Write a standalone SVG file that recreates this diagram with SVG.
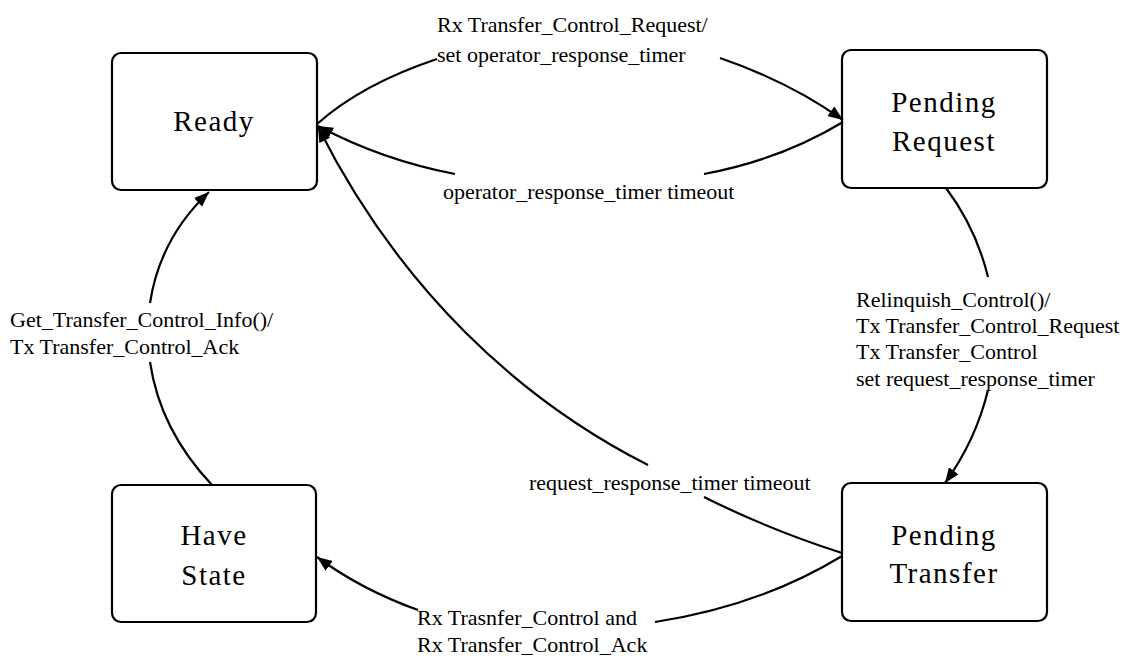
<svg xmlns="http://www.w3.org/2000/svg" width="1138" height="666" viewBox="0 0 1138 666">
  <style>
    .box { fill: #ffffff; stroke: #000000; stroke-width: 2.2; }
    .name { font-family: "Liberation Serif", "Times New Roman", serif; font-size: 29px; letter-spacing: 1.5px; text-anchor: middle; fill: #000000; }
    .lbl { font-family: "Liberation Serif", "Times New Roman", serif; font-size: 22px; fill: #000000; }
    .edge { fill: none; stroke: #000000; stroke-width: 2.2; marker-end: url(#arrow); }
  </style>
  <defs>
    <marker id="arrow" markerUnits="userSpaceOnUse" markerWidth="17" markerHeight="12" refX="15" refY="6" orient="auto">
      <path d="M0,0 L15,6 L0,12 Z" fill="#000000"/>
    </marker>
  </defs>
  <rect width="1138" height="666" fill="#ffffff"/>

  <!-- states -->
  <g id="ready">
    <rect class="box" x="112" y="53" width="205" height="137" rx="9"/>
    <text class="name" x="214" y="131">Ready</text>
  </g>
  <g id="pending-request">
    <rect class="box" x="842" y="50" width="205" height="138" rx="9"/>
    <text class="name" x="944" y="112">Pending</text>
    <text class="name" x="944" y="151">Request</text>
  </g>
  <g id="have-state">
    <rect class="box" x="112" y="485" width="204" height="137" rx="9"/>
    <text class="name" x="214" y="545">Have</text>
    <text class="name" x="214" y="585">State</text>
  </g>
  <g id="pending-transfer">
    <rect class="box" x="842" y="483" width="205" height="138" rx="9"/>
    <text class="name" x="944" y="545">Pending</text>
    <text class="name" x="944" y="583">Transfer</text>
  </g>

  <!-- transitions (each line is broken where its label sits) -->
  <g id="connectors">
    <path class="edge" d="M317,124 Q362,84 437,59 M720,58 Q790,82 843,120"/>
    <path class="edge" d="M843,122 Q780,160 704,174 M455,174 Q382,160 318,126"/>
    <path class="edge" d="M946,188 Q976,228 988,277 M988,390 Q976,440 945,483"/>
    <path class="edge" d="M842,553 Q770,530 704,497 M648,465 C520,400 400,290 318,127"/>
    <path class="edge" d="M842,556 Q760,606 655,622 M418,610 Q362,590 317,557"/>
    <path class="edge" d="M212,485 Q160,430 150,362 M150,303 Q160,238 209,192"/>
  </g>

  <!-- transition labels -->
  <g id="labels">
    <text class="lbl" x="437" y="32">Rx Transfer_Control_Request/</text>
    <text class="lbl" x="437" y="62">set operator_response_timer</text>
    <text class="lbl" x="443" y="199">operator_response_timer timeout</text>
    <text class="lbl" x="856" y="307">Relinquish_Control()/</text>
    <text class="lbl" x="856" y="333">Tx Transfer_Control_Request</text>
    <text class="lbl" x="856" y="359">Tx Transfer_Control</text>
    <text class="lbl" x="856" y="386">set request_response_timer</text>
    <text class="lbl" x="10" y="327">Get_Transfer_Control_Info()/</text>
    <text class="lbl" x="10" y="354">Tx Transfer_Control_Ack</text>
    <text class="lbl" x="529" y="490">request_response_timer timeout</text>
    <text class="lbl" x="417" y="625">Rx Trasnfer_Control and</text>
    <text class="lbl" x="417" y="652">Rx Transfer_Control_Ack</text>
  </g>
</svg>
